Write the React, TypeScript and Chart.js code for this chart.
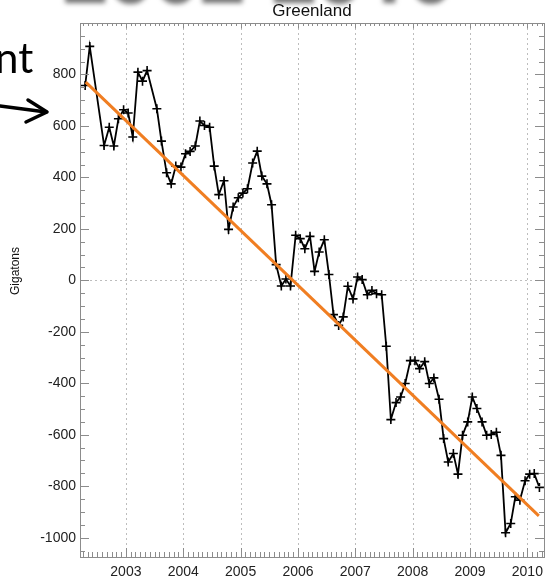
import React, { useEffect, useRef } from "react";
import { Chart, registerables } from "chart.js";

Chart.register(...registerables);

// ---- data ----
const months: number[] = [
  2002.29, 2002.37, 2002.62, 2002.71, 2002.79, 2002.87, 2002.96,
  2003.04, 2003.12, 2003.21, 2003.29, 2003.37, 2003.54, 2003.62, 2003.71, 2003.79, 2003.87, 2003.96,
  2004.04, 2004.12, 2004.21, 2004.29, 2004.37, 2004.46, 2004.54, 2004.62, 2004.71, 2004.79, 2004.87, 2004.96,
  2005.04, 2005.12, 2005.21, 2005.29, 2005.37, 2005.46, 2005.54, 2005.62, 2005.71, 2005.79, 2005.87, 2005.96,
  2006.04, 2006.12, 2006.21, 2006.29, 2006.37, 2006.46, 2006.54, 2006.62, 2006.71, 2006.79, 2006.87, 2006.96,
  2007.04, 2007.12, 2007.21, 2007.29, 2007.37, 2007.46, 2007.54, 2007.62, 2007.71, 2007.79, 2007.87, 2007.96,
  2008.04, 2008.12, 2008.21, 2008.29, 2008.37, 2008.46, 2008.54, 2008.62, 2008.71, 2008.79, 2008.87, 2008.96,
  2009.04, 2009.12, 2009.21, 2009.29, 2009.37, 2009.46, 2009.54, 2009.62, 2009.71, 2009.79, 2009.87, 2009.96,
  2010.04, 2010.12, 2010.21,
];

const gigatons: number[] = [
  757, 909, 524, 595, 522, 628, 663,
  650, 557, 809, 774, 815, 667, 541, 418, 375, 444, 440,
  492, 501, 522, 619, 602, 595, 444, 333, 387, 198, 285, 321,
  339, 356, 456, 502, 405, 375, 294, 61, -22, 5, -22, 175,
  162, 123, 171, 35, 110, 158, 23, -133, -175, -142, -23, -72,
  13, 3, -56, -39, -52, -56, -256, -541, -475, -453, -401, -312,
  -312, -343, -316, -401, -379, -462, -615, -706, -673, -753, -602, -550,
  -453, -498, -550, -602, -599, -590, -680, -981, -945, -841, -854, -779,
  -753, -751, -805,
];

const trendYears: number[] = [2002.3, 2010.2];
const trendValues: number[] = [770, -915];

const xTickYears: number[] = [2003, 2004, 2005, 2006, 2007, 2008, 2009, 2010];
const yTickValues: number[] = [-1000, -800, -600, -400, -200, 0, 200, 400, 600, 800];

const chartTitle = "Greenland";
const yAxisTitle = "Gigatons";
const overlayBanner = "2002-2010";
const overlayWord = "nt";

const FONT = '"Liberation Sans", Arial, Helvetica, sans-serif';

const idlFramePlugin = {
  id: "idlFrame",
  beforeDatasetsDraw(chart: any) {
    const { ctx, chartArea: a, scales } = chart;
    const x = scales.x;
    const y = scales.y;
    ctx.save();
    ctx.strokeStyle = "#bdbdbd";
    ctx.lineWidth = 1;
    ctx.setLineDash([2, 3]);
    for (const yr of xTickYears) {
      const px = Math.round(x.getPixelForValue(yr)) + 0.5;
      ctx.beginPath();
      ctx.moveTo(px, a.top);
      ctx.lineTo(px, a.bottom);
      ctx.stroke();
    }
    const py0 = Math.round(y.getPixelForValue(0)) + 0.5;
    ctx.beginPath();
    ctx.moveTo(a.left, py0);
    ctx.lineTo(a.right, py0);
    ctx.stroke();
    ctx.restore();
  },
  afterDatasetsDraw(chart: any) {
    const { ctx, chartArea: a, scales } = chart;
    const x = scales.x;
    const y = scales.y;
    ctx.save();
    ctx.strokeStyle = "#8c8c8c";
    ctx.lineWidth = 1;
    ctx.setLineDash([]);
    ctx.strokeRect(Math.round(a.left) + 0.5, Math.round(a.top) + 0.5, Math.round(a.right - a.left), Math.round(a.bottom - a.top));
    const major = 9;
    const minor = 5;
    ctx.beginPath();
    const startYear = Math.floor(x.min);
    for (let m = startYear * 12; m <= Math.ceil(x.max) * 12; m++) {
      const v = m / 12;
      if (v < x.min || v > x.max) continue;
      const px = Math.round(x.getPixelForValue(v)) + 0.5;
      const len = m % 12 === 0 ? major : minor;
      ctx.moveTo(px, a.bottom);
      ctx.lineTo(px, a.bottom - len);
      ctx.moveTo(px, a.top);
      ctx.lineTo(px, a.top + len * 0.6);
    }
    for (let v = Math.ceil(y.min / 50) * 50; v <= y.max; v += 50) {
      const py = Math.round(y.getPixelForValue(v)) + 0.5;
      const len = v % 200 === 0 ? major : minor;
      ctx.moveTo(a.left, py);
      ctx.lineTo(a.left + len, py);
      ctx.moveTo(a.right, py);
      ctx.lineTo(a.right - len, py);
    }
    ctx.stroke();
    ctx.restore();
  },
  afterDraw(chart: any) {
    const { ctx, chartArea: a } = chart;
    ctx.save();
    ctx.fillStyle = "#111";
    ctx.font = `17px ${FONT}`;
    ctx.textAlign = "center";
    ctx.textBaseline = "middle";
    ctx.fillText(chartTitle, (a.left + a.right) / 2, 11);
    ctx.translate(16, 271);
    ctx.rotate(-Math.PI / 2);
    ctx.font = `12px ${FONT}`;
    ctx.fillText(yAxisTitle, 0, 0);
    ctx.restore();
  },
};

export default function App() {
  const canvasRef = useRef<HTMLCanvasElement | null>(null);

  useEffect(() => {
    document.body.style.margin = "0";
    const canvas = canvasRef.current;
    if (!canvas) return;
    const chart = new Chart(canvas, {
      type: "line",
      data: {
        datasets: [
          {
            label: "Greenland mass",
            data: months.map((m, i) => ({ x: m, y: gigatons[i] })),
            borderColor: "#000",
            borderWidth: 1.8,
            pointStyle: "cross",
            pointRadius: 4.5,
            pointBorderWidth: 1.6,
            pointBorderColor: "#000",
            pointBackgroundColor: "#000",
            tension: 0,
            order: 2,
          },
          {
            label: "Trend",
            data: trendYears.map((t, i) => ({ x: t, y: trendValues[i] })),
            borderColor: "#F07E22",
            borderWidth: 3,
            pointRadius: 0,
            tension: 0,
            order: 1,
          },
        ],
      },
      options: {
        animation: false,
        responsive: false,
        devicePixelRatio: 1,
        layout: { padding: { left: 0, right: 7, top: 23, bottom: 0 } },
        plugins: {
          legend: { display: false },
          title: { display: false },
          tooltip: { enabled: false },
        },
        scales: {
          x: {
            type: "linear",
            min: 2002.2,
            max: 2010.29,
            grid: { display: false, drawTicks: false },
            border: { display: false },
            afterBuildTicks: (scale: any) => {
              scale.ticks = xTickYears.map((v) => ({ value: v }));
            },
            afterFit: (scale: any) => {
              scale.height = 24;
            },
            ticks: {
              autoSkip: false,
              maxRotation: 0,
              padding: 7,
              color: "#222",
              font: { family: FONT, size: 14 },
              callback: (v: any) => String(v),
            },
          },
          y: {
            type: "linear",
            min: -1075,
            max: 1000,
            grid: { display: false, drawTicks: false },
            border: { display: false },
            afterBuildTicks: (scale: any) => {
              scale.ticks = yTickValues.map((v) => ({ value: v }));
            },
            afterFit: (scale: any) => {
              scale.width = 80;
            },
            ticks: {
              autoSkip: false,
              padding: 4,
              color: "#222",
              font: { family: FONT, size: 14 },
              callback: (v: any) => String(v),
            },
          },
        },
      },
      plugins: [idlFramePlugin],
    } as any);
    return () => chart.destroy();
  }, []);

  return (
    <div style={{ position: "fixed", left: 0, top: 0, width: 551, height: 581, overflow: "hidden", background: "#fff" }}>
      <canvas ref={canvasRef} width={551} height={581} style={{ position: "absolute", left: 0, top: 0, width: 551, height: 581 }} />
      <div
        style={{
          position: "absolute",
          left: 58,
          top: -72,
          fontFamily: '"Open Sans", sans-serif',
          fontWeight: 700,
          fontSize: 80,
          lineHeight: "80px",
          color: "#2a2ad8",
          textShadow: "4px 4px 5px rgba(0,0,0,0.55)",
          whiteSpace: "nowrap",
        }}
      >
        {overlayBanner}
      </div>
      <div
        style={{
          position: "absolute",
          left: -5,
          top: 36,
          fontFamily: "Lato, sans-serif",
          fontSize: 42,
          lineHeight: "42px",
          color: "#000",
          whiteSpace: "nowrap",
        }}
      >
        {overlayWord}
      </div>
      <svg width={60} height={40} style={{ position: "absolute", left: 0, top: 94 }}>
        <polyline points="0,12 46,18" fill="none" stroke="#000" strokeWidth={3.5} strokeLinecap="round" />
        <polyline points="28,6 47,18 26,28" fill="none" stroke="#000" strokeWidth={3.5} strokeLinecap="round" strokeLinejoin="round" />
      </svg>
    </div>
  );
}
